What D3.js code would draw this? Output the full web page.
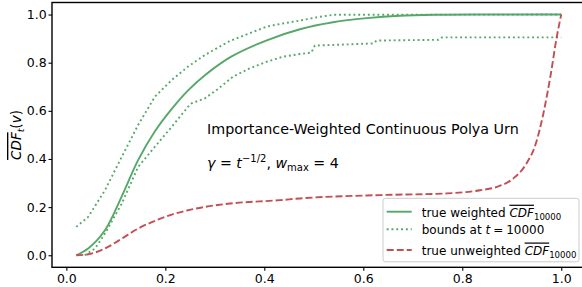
<!DOCTYPE html>
<html><head><meta charset="utf-8">
<script src="https://cdn.jsdelivr.net/npm/d3@7"></script>
<style>
html,body{margin:0;padding:0;background:#fff;}
svg{display:block;font-family:"DejaVu Sans",sans-serif;}
</style></head>
<body>
<svg id="chart" width="582" height="287"></svg>
<script>
// ---- data ----
const xTicks = [0.0, 0.2, 0.4, 0.6, 0.8, 1.0];
const yTicks = [0.0, 0.2, 0.4, 0.6, 0.8, 1.0];

const weightedX = [0.02,0.044,0.078,0.112,0.145,0.179,0.213,0.246,0.28,0.334,0.405,0.472,0.539,0.607,0.674,0.75,0.85,1.0];
const weightedY = [0,0.028,0.104,0.245,0.395,0.515,0.608,0.685,0.748,0.826,0.893,0.939,0.968,0.985,0.995,0.999,1.0,1.0];

const upperX = [0.02,0.044,0.078,0.112,0.145,0.179,0.213,0.246,0.28,0.33,0.405,0.432,0.472,0.51,0.54,1.0];
const upperY = [0.118,0.159,0.27,0.409,0.541,0.659,0.728,0.784,0.832,0.89,0.95,0.961,0.975,0.99,0.999,1.0];

const lowerX = [0.037,0.058,0.078,0.112,0.145,0.179,0.213,0.246,0.253,0.28,0.304,0.337,0.371,0.405,0.438,0.472,0.495,0.502,0.62,0.627,0.752,0.759,1.0];
const lowerY = [0,0.028,0.09,0.215,0.367,0.451,0.534,0.617,0.631,0.652,0.687,0.742,0.777,0.804,0.825,0.836,0.842,0.871,0.880,0.892,0.895,0.905,0.905];

const unweightedX = [0.02,0.044,0.078,0.112,0.145,0.179,0.213,0.246,0.28,0.331,0.432,0.472,0.634,0.769,0.836,0.870,0.903,0.930,0.948,0.964,0.978,0.991,1.0];
const unweightedY = [0,0.004,0.028,0.069,0.111,0.143,0.169,0.187,0.201,0.215,0.229,0.236,0.25,0.257,0.27,0.284,0.319,0.382,0.46,0.59,0.742,0.908,1.0];

const legendLabels = ["true weighted", "bounds at", "true unweighted"];
const annotTitle = "Importance-Weighted Continuous Polya Urn";

// ---- colours ----
const green = "#55a868", red = "#c44e52";

const svg = d3.select("#chart");
const x = d3.scaleLinear().domain([-0.029, 1.049]).range([52, 585.5]);
const y = d3.scaleLinear().domain([-0.05, 1.05]).range([267.3, 2.5]);

const zip = (a, b) => a.map((v, i) => [v, b[i]]);
const lineSmooth = d3.line().x(d => x(d[0])).y(d => y(d[1])).curve(d3.curveMonotoneX);
const lineCR = d3.line().x(d => x(d[0])).y(d => y(d[1])).curve(d3.curveCatmullRom.alpha(0.5));
const lineLin = d3.line().x(d => x(d[0])).y(d => y(d[1]));

// series
svg.append("path").attr("d", lineLin(zip(upperX, upperY)))
  .attr("fill","none").attr("stroke",green).attr("stroke-width",1.9).attr("stroke-dasharray","1.9,2.9");
svg.append("path").attr("d", lineLin(zip(lowerX, lowerY)))
  .attr("fill","none").attr("stroke",green).attr("stroke-width",1.9).attr("stroke-dasharray","1.9,2.9");
svg.append("path").attr("d", lineCR(zip(weightedX, weightedY)))
  .attr("fill","none").attr("stroke",green).attr("stroke-width",1.9);
svg.append("path").attr("d", lineSmooth(zip(unweightedX, unweightedY)))
  .attr("fill","none").attr("stroke",red).attr("stroke-width",1.9).attr("stroke-dasharray","7,3");

// axes
const ax = svg.append("g").attr("transform", "translate(0,267.3)")
  .call(d3.axisBottom(x).tickValues(xTicks).tickFormat(d3.format(".1f")).tickSize(3.5).tickPadding(3.2));
const ay = svg.append("g").attr("transform", "translate(52,0)")
  .call(d3.axisLeft(y).tickValues(yTicks).tickFormat(d3.format(".1f")).tickSize(3.5).tickPadding(1.8));
[ax, ay].forEach(g => {
  g.select(".domain").remove();
  g.selectAll(".tick line").attr("stroke","#000").attr("stroke-width",1.1);
  g.selectAll(".tick text").attr("fill","#000").style("font-size","12.5px").style("font-family","DejaVu Sans");
});

// spines
svg.append("rect").attr("x",52).attr("y",2.5).attr("width",533.5).attr("height",264.8)
  .attr("fill","none").attr("stroke","#000").attr("stroke-width",1.4);

// y label
const yl = svg.append("text").attr("transform","translate(21,135) rotate(-90)")
  .attr("text-anchor","middle").style("font-size","13.5px");
yl.append("tspan").attr("font-style","italic").style("text-decoration","overline").text("CDF");
yl.append("tspan").attr("font-style","italic").attr("dy",3.2).style("font-size","9.5px").text("t");
yl.append("tspan").attr("dy",-3.2).text("(");
yl.append("tspan").attr("font-style","italic").text("v");
yl.append("tspan").text(")");

// annotation
svg.append("text").attr("x",207).attr("y",134).style("font-size","14.3px").text(annotTitle);
const a2 = svg.append("text").attr("x",207).attr("y",168).style("font-size","14.2px");
a2.append("tspan").attr("font-style","italic").text("γ");
a2.append("tspan").text(" = ");
a2.append("tspan").attr("font-style","italic").text("t");
a2.append("tspan").attr("dy",-6).style("font-size","10px").text("−1/2");
a2.append("tspan").attr("dy",6).text(", ");
a2.append("tspan").attr("font-style","italic").text("w");
a2.append("tspan").attr("dy",3).style("font-size","10px").text("max");
a2.append("tspan").attr("dy",-3).text(" = 4");

// legend
const lg = svg.append("g");
lg.append("rect").attr("x",383).attr("y",198.3).attr("width",196).attr("height",63.5).attr("rx",2.5)
  .attr("fill","#fff").attr("fill-opacity",0.8).attr("stroke","#cccccc").attr("stroke-width",1);
const rows = [
  {ly:211.7, ty:216.7, stroke:green, dash:null},
  {ly:229.3, ty:233.5, stroke:green, dash:"1.9,2.9"},
  {ly:250.0, ty:254.5, stroke:red, dash:"7,3"}
];
rows.forEach((r, i) => {
  const l = lg.append("line").attr("x1",386.7).attr("x2",411.7).attr("y1",r.ly).attr("y2",r.ly)
    .attr("stroke",r.stroke).attr("stroke-width",1.9);
  if (r.dash) l.attr("stroke-dasharray", r.dash);
  const t = lg.append("text").attr("x",421.7).attr("y",r.ty).style("font-size","12px");
  t.append("tspan").text(legendLabels[i] + " ");
  if (i === 1) {
    t.append("tspan").attr("font-style","italic").text("t");
    t.append("tspan").attr("dx",3).text("=");
    t.append("tspan").attr("dx",3).text("10000");
  } else {
    t.append("tspan").attr("font-style","italic").style("text-decoration","overline").text("CDF");
    t.append("tspan").attr("dy",3).style("font-size","8.6px").text("10000");
  }
});
</script>
</body></html>
